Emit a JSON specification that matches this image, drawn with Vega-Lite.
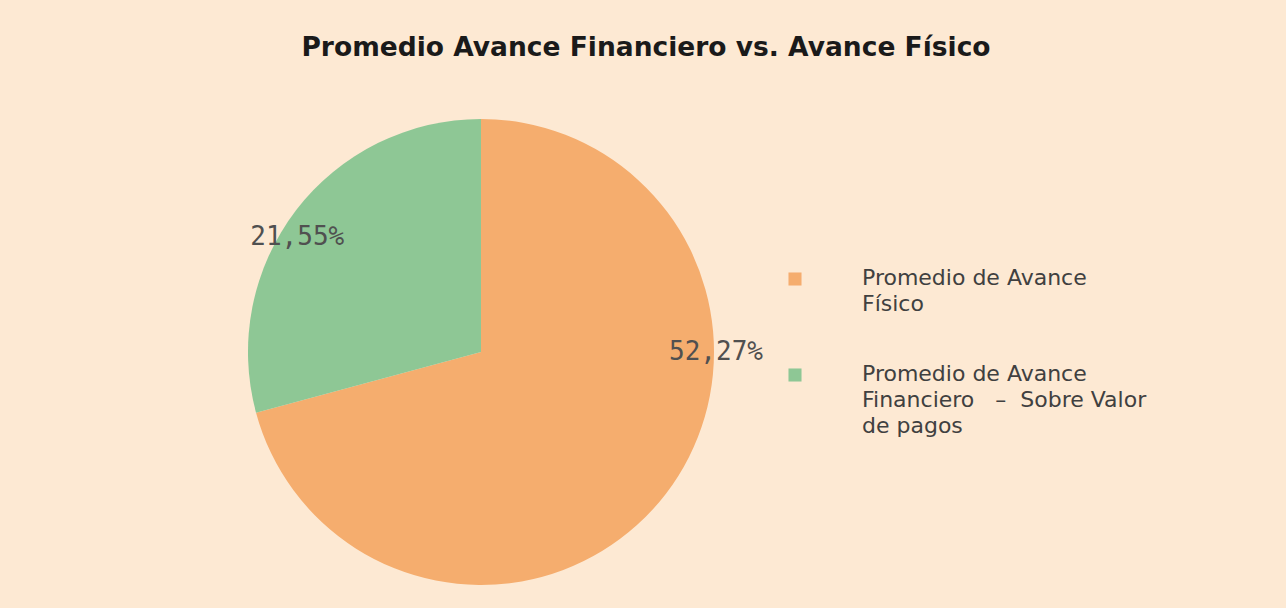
{
  "$schema": "https://vega.github.io/schema/vega-lite/v6.json",
  "autosize": "none",
  "width": 942,
  "height": 510,
  "padding": {"left": 10, "top": 97, "right": 334, "bottom": 1},
  "background": "#FDE9D3",
  "view": {"stroke": null},
  "title": {
    "text": "Promedio Avance Financiero vs. Avance Físico",
    "font": "DejaVu Sans",
    "fontSize": 26.5,
    "fontWeight": "bold",
    "color": "#1a1a1a",
    "offset": 36,
    "dx": 165
  },
  "data": {
    "values": [
      {"serie": "Promedio de Avance Físico", "valor": 52.27, "etiqueta": "52,27%", "orden": 1},
      {"serie": "Promedio de Avance Financiero  – Sobre Valor de pagos", "valor": 21.55, "etiqueta": "21,55%", "orden": 2}
    ]
  },
  "encoding": {
    "theta": {"field": "valor", "type": "quantitative", "stack": true},
    "order": {"field": "orden", "type": "quantitative"}
  },
  "layer": [
    {
      "mark": {"type": "arc", "outerRadius": 233},
      "encoding": {
        "color": {
          "field": "serie",
          "type": "nominal",
          "sort": ["Promedio de Avance Físico", "Promedio de Avance Financiero  – Sobre Valor de pagos"],
          "scale": {
            "domain": ["Promedio de Avance Físico", "Promedio de Avance Financiero  – Sobre Valor de pagos"],
            "range": ["#F5AD6E", "#8EC795"]
          },
          "legend": {
            "orient": "none",
            "legendX": 774,
            "legendY": 171,
            "title": null,
            "symbolType": "square",
            "symbolSize": 170,
            "symbolStrokeWidth": 0,
            "labelFont": "DejaVu Sans",
            "labelFontSize": 22,
            "labelColor": "#404040",
            "labelOffset": 56,
            "labelLimit": 400,
            "labelBaseline": "top",
            "rowPadding": 48,
            "encode": {"labels": {"update": {"dy": {"value": -11}, "lineHeight": {"value": 26}}}},
            "labelExpr": "datum.label == 'Promedio de Avance Físico' ? ['Promedio de Avance', 'Físico'] : ['Promedio de Avance', 'Financiero\u00a0\u00a0 –\u00a0 Sobre Valor', 'de pagos']"
          }
        }
      }
    },
    {
      "mark": {"type": "text", "radius": 205, "font": "DejaVu Sans Mono", "fontSize": 26, "color": "#505050", "dx": -21, "dy": 10},
      "encoding": {"text": {"condition": {"test": "datum.orden == 2", "field": "etiqueta"}, "value": ""}}
    },
    {
      "mark": {"type": "text", "radius": 0, "font": "DejaVu Sans Mono", "fontSize": 26, "color": "#505050", "dx": 235, "dy": 0},
      "encoding": {"text": {"condition": {"test": "datum.orden == 1", "field": "etiqueta"}, "value": ""}}
    }
  ]
}
